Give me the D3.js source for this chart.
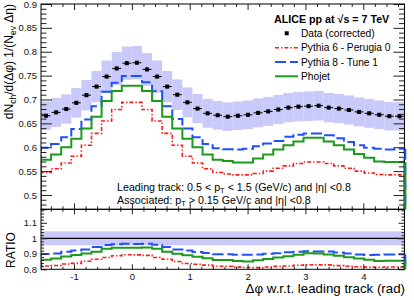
<!DOCTYPE html>
<html><head><meta charset="utf-8">
<script src="https://cdn.jsdelivr.net/npm/d3@7"></script>
<style>
body{margin:0;background:#fff}
svg{display:block;font-family:"Liberation Sans",Arial,Helvetica,sans-serif}
</style>
</head><body>
<svg id="c" width="414" height="300"></svg>
<script>
// ---------------- data ----------------
const nBins = 36;
const dataVals = [0.666,0.673,0.680,0.693,0.709,0.727,0.748,0.765,0.776,0.777,0.763,0.748,0.727,0.710,0.694,0.681,0.671,0.667,
                  0.664,0.666,0.668,0.672,0.675,0.679,0.683,0.685,0.686,0.687,0.683,0.681,0.678,0.674,0.671,0.668,0.665,0.665];
const pythia6 = [0.547,0.555,0.567,0.581,0.604,0.629,0.655,0.679,0.694,0.694,0.679,0.655,0.629,0.604,0.581,0.567,0.555,0.547,
                 0.544,0.542,0.542,0.545,0.550,0.556,0.561,0.566,0.569,0.569,0.566,0.561,0.556,0.550,0.546,0.543,0.542,0.542];
const pythia8 = [0.599,0.607,0.621,0.638,0.658,0.686,0.716,0.735,0.749,0.749,0.736,0.717,0.686,0.659,0.639,0.621,0.607,0.598,
                 0.596,0.595,0.597,0.602,0.608,0.613,0.622,0.626,0.629,0.629,0.625,0.619,0.611,0.604,0.599,0.597,0.595,0.597];
const phojet  = [0.574,0.585,0.600,0.618,0.639,0.664,0.697,0.718,0.729,0.729,0.718,0.697,0.664,0.639,0.618,0.600,0.585,0.574,
                 0.571,0.568,0.568,0.5765,0.585,0.595,0.604,0.612,0.620,0.620,0.612,0.604,0.595,0.586,0.578,0.570,0.569,0.569];
const sysRel = 0.045;          // relative systematic uncertainty (band)
const yTicksTop = [0.5,0.55,0.6,0.65,0.7,0.75,0.8,0.85,0.9];
const yTicksRatio = [0.8,0.9,1,1.1];
const xTicks = [-1,0,1,2,3,4];
const legendLabels = ["Data (corrected)","Pythia 6 -  Perugia 0","Pythia 8 -  Tune 1","Phojet"];

// ---------------- layout ----------------
const L = 41, R = 404.5, T = 4, M = 209.3, B = 269.3;
const lo = -Math.PI/2, hi = 3*Math.PI/2;
const binW = (hi-lo)/nBins;
const edges = d3.range(nBins+1).map(i => lo + i*binW);
const x = d3.scaleLinear([lo,hi],[L,R]);
const yT = d3.scaleLinear([0.47,0.9],[M,T]);
const yR = d3.scaleLinear([0.8,1.187],[B,M]);

const C = {band:"#c9c9fa", red:"#ff1a1a", blue:"#1f4fff", green:"#1c9a1c"};
const styles = [
  {vals:pythia6, color:C.red,   w:1.6, dash:"4,2,1.4,2"},
  {vals:pythia8, color:C.blue,  w:2,   dash:"11,4"},
  {vals:phojet,  color:C.green, w:2,   dash:null}
];

const svg = d3.select("#c");
const defs = svg.append("defs");
defs.append("clipPath").attr("id","cpT").append("rect").attr("x",L).attr("y",T).attr("width",R-L).attr("height",M-T);
defs.append("clipPath").attr("id","cpR").append("rect").attr("x",L).attr("y",M).attr("width",R-L).attr("height",B-M);

function stepPts(vals, y, base){
  const pts = [[x(lo), base]];
  vals.forEach((v,i)=>{ pts.push([x(edges[i]), y(v)]); pts.push([x(edges[i+1]), y(v)]); });
  pts.push([x(hi), base]);
  return pts;
}
const line = d3.line();

// ---------------- top panel ----------------
const gT = svg.append("g").attr("clip-path","url(#cpT)");
gT.selectAll("rect.band").data(dataVals).join("rect")
  .attr("x",(d,i)=>x(edges[i])).attr("width",(d,i)=>x(edges[i+1])-x(edges[i]))
  .attr("y",d=>yT(d*(1+sysRel))).attr("height",d=>yT(d*(1-sysRel))-yT(d*(1+sysRel)))
  .attr("fill",C.band);
styles.forEach(s=>{
  gT.append("path").attr("d",line(stepPts(s.vals,yT,M+2))).attr("fill","none")
    .attr("stroke",s.color).attr("stroke-width",s.w).attr("stroke-dasharray",s.dash);
});
// data points
const half = (x(edges[1])-x(edges[0]))/2 - 0.6;
const gD = gT.append("g");
dataVals.forEach((v,i)=>{
  const cx = x(lo + (i+0.5)*binW), cy = yT(v);
  gD.append("line").attr("x1",cx-half).attr("x2",cx+half).attr("y1",cy).attr("y2",cy).attr("stroke","#000").attr("stroke-width",1);
  gD.append("line").attr("x1",cx).attr("x2",cx).attr("y1",cy-1.8).attr("y2",cy+1.8).attr("stroke","#000").attr("stroke-width",1);
  gD.append("rect").attr("x",cx-2).attr("y",cy-2).attr("width",4).attr("height",4).attr("fill","#000");
});

// ---------------- ratio panel ----------------
const gR = svg.append("g").attr("clip-path","url(#cpR)");
gR.append("rect").attr("x",L).attr("width",R-L).attr("y",yR(1+sysRel)).attr("height",yR(1-sysRel)-yR(1+sysRel)).attr("fill",C.band);
gR.append("line").attr("x1",L).attr("x2",R).attr("y1",yR(1)).attr("y2",yR(1)).attr("stroke","#000").attr("stroke-width",1.3);
styles.forEach(s=>{
  const r = s.vals.map((v,i)=>v/dataVals[i]);
  gR.append("path").attr("d",line(stepPts(r,yR,B+2))).attr("fill","none")
    .attr("stroke",s.color).attr("stroke-width",s.w).attr("stroke-dasharray",s.dash);
});

// ---------------- axes ----------------
const fs = "9.5px";
function styleAxis(g){
  g.select(".domain").remove();
  g.selectAll("line").attr("stroke","#222").attr("stroke-width",1);
  g.attr("font-family",null).attr("font-size",null);
  g.selectAll("text").attr("fill","#111").style("font-size",fs);
}
const minorTop = d3.range(47,91).map(d=>d/100).filter(d=>Math.round(d*100)%5!==0);
const minorRat = d3.range(40,60).map(d=>d/50).filter(d=>Math.round(d*50)%5!==0 && d<1.187);
const minorX = d3.range(-7,24).map(d=>d/5).filter(d=>Math.abs(d-Math.round(d))>1e-6 && d>lo && d<hi);

// top panel y
svg.append("g").attr("transform",`translate(${L},0)`).call(d3.axisLeft(yT).tickValues(yTicksTop).tickSize(-11).tickPadding(4).tickFormat(d=>String(d))).call(styleAxis);
svg.append("g").attr("transform",`translate(${L},0)`).call(d3.axisLeft(yT).tickValues(minorTop).tickSize(-5.5).tickFormat("")).call(styleAxis);
svg.append("g").attr("transform",`translate(${R},0)`).call(d3.axisRight(yT).tickValues(yTicksTop).tickSize(-11).tickFormat("")).call(styleAxis);
svg.append("g").attr("transform",`translate(${R},0)`).call(d3.axisRight(yT).tickValues(minorTop).tickSize(-5.5).tickFormat("")).call(styleAxis);
// top panel x (top & bottom edges)
svg.append("g").attr("transform",`translate(0,${T})`).call(d3.axisTop(x).tickValues(xTicks).tickSize(-6).tickFormat("")).call(styleAxis);
svg.append("g").attr("transform",`translate(0,${T})`).call(d3.axisTop(x).tickValues(minorX).tickSize(-3).tickFormat("")).call(styleAxis);
svg.append("g").attr("transform",`translate(0,${M})`).call(d3.axisBottom(x).tickValues(xTicks).tickSize(-6).tickFormat("")).call(styleAxis);
svg.append("g").attr("transform",`translate(0,${M})`).call(d3.axisBottom(x).tickValues(minorX).tickSize(-3).tickFormat("")).call(styleAxis);
// ratio panel y
svg.append("g").attr("transform",`translate(${L},0)`).call(d3.axisLeft(yR).tickValues(yTicksRatio).tickSize(-6).tickPadding(4).tickFormat(d=>String(d))).call(styleAxis);
svg.append("g").attr("transform",`translate(${L},0)`).call(d3.axisLeft(yR).tickValues(minorRat).tickSize(-3).tickFormat("")).call(styleAxis);
svg.append("g").attr("transform",`translate(${R},0)`).call(d3.axisRight(yR).tickValues(yTicksRatio).tickSize(-6).tickFormat("")).call(styleAxis);
svg.append("g").attr("transform",`translate(${R},0)`).call(d3.axisRight(yR).tickValues(minorRat).tickSize(-3).tickFormat("")).call(styleAxis);
// ratio panel x
svg.append("g").attr("transform",`translate(0,${M})`).call(d3.axisTop(x).tickValues(xTicks).tickSize(-5).tickFormat("")).call(styleAxis);
svg.append("g").attr("transform",`translate(0,${M})`).call(d3.axisTop(x).tickValues(minorX).tickSize(-2.5).tickFormat("")).call(styleAxis);
svg.append("g").attr("transform",`translate(0,${B})`).call(d3.axisBottom(x).tickValues(xTicks).tickSize(-5).tickPadding(4).tickFormat(d=>String(d))).call(styleAxis);
svg.append("g").attr("transform",`translate(0,${B})`).call(d3.axisBottom(x).tickValues(minorX).tickSize(-2.5).tickFormat("")).call(styleAxis);

// frames
svg.append("rect").attr("x",L).attr("y",T).attr("width",R-L).attr("height",M-T).attr("fill","none").attr("stroke","#000").attr("stroke-width",1);
svg.append("rect").attr("x",L).attr("y",M).attr("width",R-L).attr("height",B-M).attr("fill","none").attr("stroke","#000").attr("stroke-width",1);
// right-edge drop lines drawn above frame (as in reference)
styles.forEach(s=>{
  [[yT,s.vals[nBins-1],M],[yR,s.vals[nBins-1]/dataVals[nBins-1],B]].forEach(([ys,v,base])=>{
    svg.append("line").attr("x1",x(hi)+0.8).attr("x2",x(hi)+0.8).attr("y1",ys(v)).attr("y2",base)
      .attr("stroke",s.color).attr("stroke-width",s.w).attr("stroke-dasharray",s.dash);
  });
});

// ---------------- titles ----------------
const yt = svg.append("text").attr("transform",`translate(13,${T}) rotate(-90)`).attr("text-anchor","end")
  .style("font-size","12px").attr("fill","#000");
yt.append("tspan").text("dN");
yt.append("tspan").text("ch").style("font-size","8.5px").attr("dy",3);
yt.append("tspan").text("/d(Δφ) 1/(N").attr("dy",-3);
yt.append("tspan").text("ev").style("font-size","8.5px").attr("dy",3);
yt.append("tspan").text(" Δη)").attr("dy",-3);

svg.append("text").attr("transform",`translate(15,250) rotate(-90)`).attr("text-anchor","middle")
  .style("font-size","12px").attr("fill","#000").text("RATIO");

svg.append("text").attr("x",405).attr("y",293).attr("text-anchor","end").style("font-size","13.3px").attr("fill","#000")
  .text("Δφ w.r.t. leading track (rad)");

// ---------------- legend ----------------
svg.append("text").attr("x",274).attr("y",23).style("font-size","10.7px").style("font-weight","bold").attr("fill","#000")
  .text("ALICE pp at  √s = 7 TeV");
const legY = [33.3,47.7,62,76.3];
svg.append("rect").attr("x",284.7).attr("y",legY[0]-2).attr("width",4).attr("height",4).attr("fill","#000");
styles.forEach((s,i)=>{
  svg.append("line").attr("x1",275).attr("x2",298).attr("y1",legY[i+1]).attr("y2",legY[i+1])
    .attr("stroke",s.color).attr("stroke-width",s.w).attr("stroke-dasharray",s.dash);
});
legendLabels.forEach((t,i)=>{
  svg.append("text").attr("x",301).attr("y",legY[i]+3.5).style("font-size","10.2px").attr("fill","#000").text(t);
});

// ---------------- annotations ----------------
function pT(before, after, yb){
  const t = svg.append("text").attr("x",117).attr("y",yb).style("font-size","10.7px").attr("fill","#000");
  t.append("tspan").text(before + "p");
  t.append("tspan").text("T").style("font-size","7.5px").attr("dy",2.5);
  t.append("tspan").text(after).attr("dy",-2.5);
}
pT("Leading track: 0.5 < ", " < 1.5 (GeV/c) and |η| <0.8", 190.5);
pT("Associated: ", " > 0.15 GeV/c and |η| <0.8", 203.5);
</script>
</body></html>
